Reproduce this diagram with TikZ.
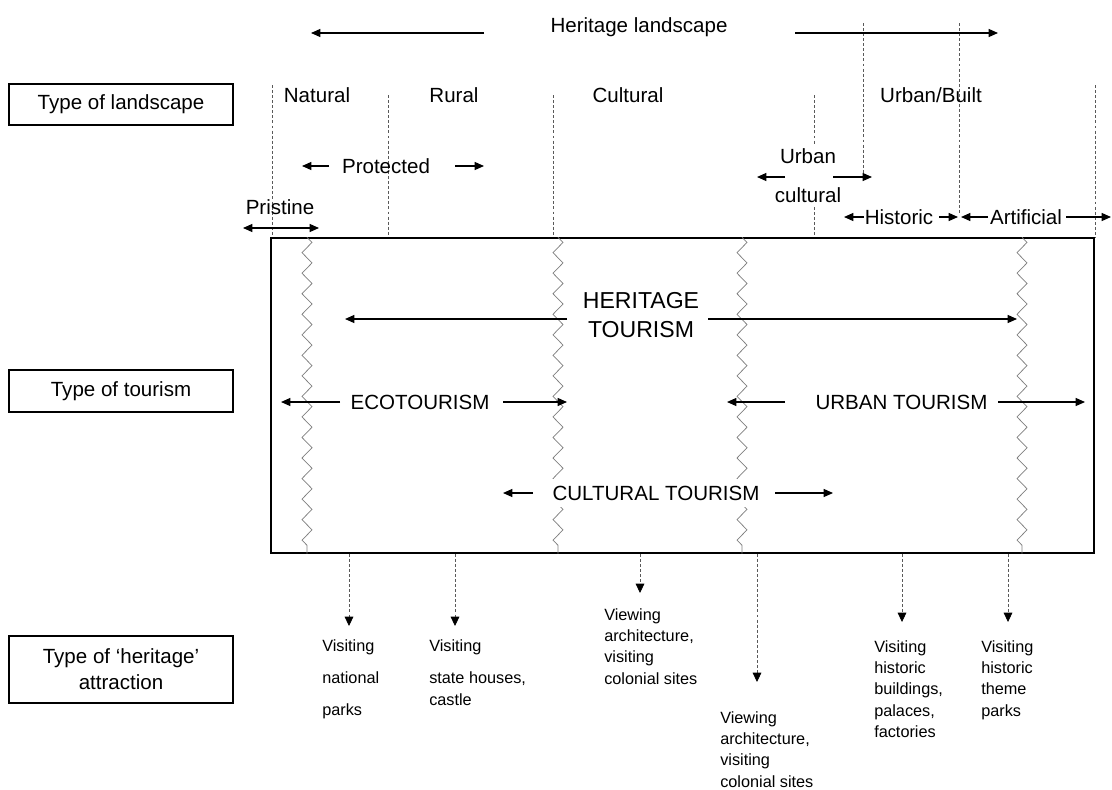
\documentclass[tikz,border=0pt]{standalone}
\usepackage{fontspec}
\setmainfont{Liberation Sans}
\usetikzlibrary{arrows.meta,decorations.pathmorphing}

\definecolor{guide}{gray}{0.35}
\definecolor{zigc}{gray}{0.5}

\begin{document}
\begin{tikzpicture}[x=0.75pt,y=-0.75pt,
  >={Triangle[length=7pt,width=6pt]},
  lbl/.style={font=\fontsize{15.4}{18.5}\selectfont, inner sep=0pt, anchor=base},
  caps/.style={font=\fontsize{15.4}{18.5}\selectfont, inner sep=0pt},
  bigcaps/.style={font=\fontsize{17.3}{21.75}\selectfont, align=center, inner sep=0pt},
  sidebox/.style={draw, line width=0.9pt, inner sep=0pt, minimum width=168pt,
                  font=\fontsize{15.4}{19.5}\selectfont, align=center},
  attr/.style={font=\fontsize{12.2}{16}\selectfont, align=left, inner sep=0pt, anchor=north west},
  arr/.style={->, line width=0.9pt},
  darr/.style={<->, line width=0.9pt},
  guideline/.style={guide, line width=0.6pt, dash pattern=on 2.2pt off 1.6pt},
  downarr/.style={guide, line width=0.6pt, dash pattern=on 2.2pt off 1.6pt,
                  -{Triangle[length=7pt,width=6.5pt,color=black]}},
  zz/.style={zigc, line width=0.55pt, decorate,
             decoration={zigzag, segment length=15.4pt, amplitude=3.75pt}}
]
\useasboundingbox (0,0) rectangle (1112,789);

% ---------- row headings ----------
\node[sidebox, minimum height=30.75pt] (hland) at (121,104.5) {Type of landscape};
\node[sidebox, minimum height=31.5pt]  (htour) at (121,391)   {Type of tourism};
\node[sidebox, minimum height=50.25pt] (hattr) at (121,669.5) {Type of ‘heritage’\\attraction};

% ---------- landscape boundaries ----------
\coordinate (g1a) at (272,85);  \coordinate (g1b) at (272,238);
\coordinate (g2a) at (388,95);  \coordinate (g2b) at (388,238);
\coordinate (g3a) at (553,95);  \coordinate (g3b) at (553,238);
\coordinate (g4a) at (814,95);  \coordinate (g4b) at (814,145);
\coordinate (g4c) at (814,207); \coordinate (g4d) at (814,238);
\coordinate (g5a) at (863,23);  \coordinate (g5b) at (863,173);
\coordinate (g6a) at (959,23);  \coordinate (g6b) at (959,215);
\coordinate (g7a) at (1095,85); \coordinate (g7b) at (1095,238);
\foreach \a/\b in {g1a/g1b,g2a/g2b,g3a/g3b,g4a/g4b,g4c/g4d,g5a/g5b,g6a/g6b,g7a/g7b}
  \draw[guideline] (\a) -- (\b);

% ---------- heritage landscape spectrum ----------
\node[lbl] (herland) at (639,32) {Heritage landscape};
\coordinate (hlA) at (484,33); \coordinate (hlL) at (311,33);
\coordinate (hlB) at (795,33); \coordinate (hlR) at (998,33);
\draw[arr] (hlA) -- (hlL);
\draw[arr] (hlB) -- (hlR);

\node[lbl] (natural) at (317,102) {Natural};
\node[lbl] (rural)   at (454,102) {Rural};
\node[lbl] (cultural) at (628,102) {Cultural};
\node[lbl] (urbbuilt) at (931,102) {Urban/Built};

\node[lbl] (protected) at (386,173) {Protected};
\coordinate (prA) at (329,166); \coordinate (prL) at (302,166);
\coordinate (prB) at (455,166); \coordinate (prR) at (484,166);
\draw[arr] (prA) -- (prL);
\draw[arr] (prB) -- (prR);

\node[lbl] (pristine) at (280,214) {Pristine};
\coordinate (psL) at (243,228); \coordinate (psR) at (319,228);
\draw[darr] (psL) -- (psR);

\node[lbl] (urban1) at (808,163) {Urban};
\node[lbl] (urban2) at (808,202) {cultural};
\coordinate (ucA) at (785,177); \coordinate (ucL) at (757,177);
\coordinate (ucB) at (833,177); \coordinate (ucR) at (872,177);
\draw[arr] (ucA) -- (ucL);
\draw[arr] (ucB) -- (ucR);

\node[lbl] (historic) at (899,224) {Historic};
\coordinate (hiA) at (864,217); \coordinate (hiL) at (844,217);
\coordinate (hiB) at (939,217); \coordinate (hiR) at (958,217);
\draw[arr] (hiA) -- (hiL);
\draw[arr] (hiB) -- (hiR);

\node[lbl] (artificial) at (1026,224) {Artificial};
\coordinate (arA) at (988,217);  \coordinate (arL) at (961,217);
\coordinate (arB) at (1066,217); \coordinate (arR) at (1111,217);
\draw[arr] (arA) -- (arL);
\draw[arr] (arB) -- (arR);

% ---------- tourism box ----------
\node[draw, line width=1.1pt, inner sep=0pt, minimum width=617.25pt,
      minimum height=236.25pt] (tourbox) at (682.5,395.5) {};

\foreach \x [count=\i] in {307,558,742,1022} {
  \coordinate (z\i) at (\x,300);
  \draw[zz] (tourbox.north -| z\i) -- (tourbox.south -| z\i);
}

\node[bigcaps] (heritage) at (641,315.5) {HERITAGE\\TOURISM};
\coordinate (htA) at (567,319);  \coordinate (htL) at (345,319);
\coordinate (htB) at (708,319);  \coordinate (htR) at (1017,319);
\draw[arr] (htA) -- (htL);
\draw[arr] (htB) -- (htR);

\node[caps] (eco) at (420,402) {ECOTOURISM};
\coordinate (ecA) at (340,402); \coordinate (ecL) at (281,402);
\coordinate (ecB) at (503,402); \coordinate (ecR) at (567,402);
\draw[arr] (ecA) -- (ecL);
\draw[arr] (ecB) -- (ecR);

\node[caps] (urbt) at (901.5,402) {URBAN TOURISM};
\coordinate (utA) at (785,402); \coordinate (utL) at (727,402);
\coordinate (utB) at (998,402); \coordinate (utR) at (1085,402);
\draw[arr] (utA) -- (utL);
\draw[arr] (utB) -- (utR);

\node[caps, fill=white, inner xsep=1pt, inner ysep=5pt] (cult) at (656,493) {CULTURAL TOURISM};
\coordinate (ctA) at (533,493); \coordinate (ctL) at (503,493);
\coordinate (ctB) at (775,493); \coordinate (ctR) at (833,493);
\draw[arr] (ctA) -- (ctL);
\draw[arr] (ctB) -- (ctR);

% ---------- attractions ----------
\coordinate (t1) at (349,626);
\coordinate (t2) at (455,626);
\coordinate (t3) at (640,593);
\coordinate (t4) at (757,682);
\coordinate (t5) at (902,622);
\coordinate (t6) at (1008,622);
\foreach \i in {1,...,6}
  \draw[downarr] (tourbox.south -| t\i) -- (t\i);

\node[attr, font=\fontsize{12.2}{24}\selectfont] (a1) at (322,639) {Visiting\\national\\parks};
\node[attr, font=\fontsize{12.2}{16.5}\selectfont] (a2) at (429,639) {Visiting\\[7.5pt]state houses,\\castle};
\node[attr] (a3) at (604,608) {Viewing\\architecture,\\visiting\\colonial sites};
\node[attr] (a4) at (720,711) {Viewing\\architecture,\\visiting\\colonial sites};
\node[attr] (a5) at (874,640) {Visiting\\historic\\buildings,\\palaces,\\factories};
\node[attr] (a6) at (981,640) {Visiting\\historic\\theme\\parks};
\end{tikzpicture}
\end{document}
